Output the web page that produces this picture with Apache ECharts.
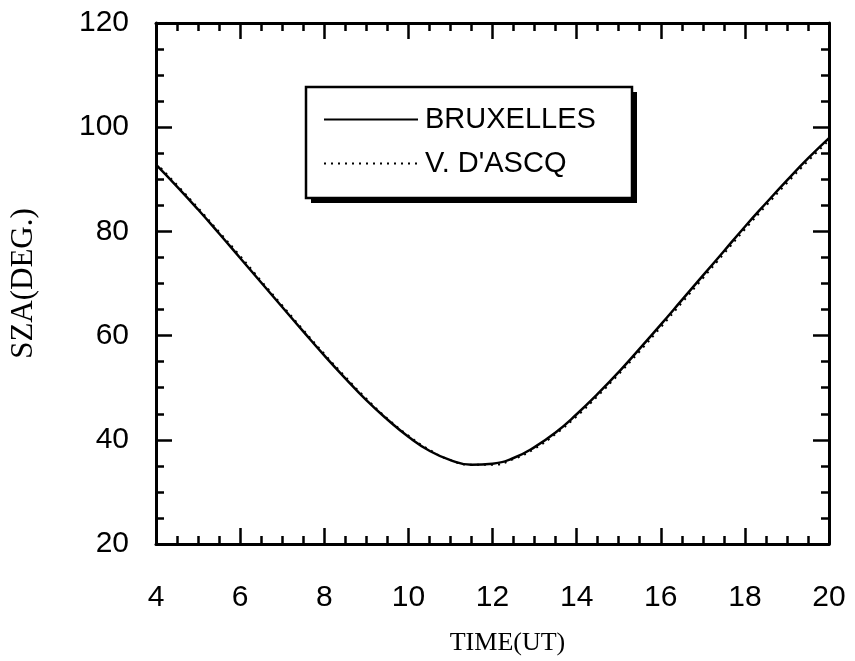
<!DOCTYPE html>
<html>
<head>
<meta charset="utf-8">
<script src="https://cdn.jsdelivr.net/npm/echarts@6/dist/echarts.min.js"></script>
<style>
	html, body { margin: 0; padding: 0; background: #fff; }
	#chart { width: 855px; height: 661px; }
</style>
</head>
<body>
<div id="chart"></div>
<script>
	'use strict';
	// hours UT
	var times = [4, 4.5, 5, 5.5, 6, 6.5, 7, 7.5, 8, 8.5, 9, 9.5, 10, 10.5, 11, 11.5, 12,
		12.5, 13, 13.5, 14, 14.5, 15, 15.5, 16, 16.5, 17, 17.5, 18, 18.5, 19, 19.5, 20];
	var bruxelles = [92.8, 88.6, 84.2, 79.6, 74.9, 70.2, 65.5, 60.8, 56.2, 51.8, 47.6, 43.9, 40.6,
		37.9, 36.1, 35.2, 35.4, 36.5, 38.6, 41.4, 44.9, 48.8, 53.0, 57.5, 62.1, 66.8, 71.5,
		76.2, 80.9, 85.4, 89.8, 94.0, 97.9];
	var villeneuve = [93.1, 88.9, 84.5, 79.9, 75.3, 70.5, 65.8, 61.1, 56.5, 52.1, 47.9, 44.1, 40.8,
		38.1, 36.1, 35.2, 35.2, 36.3, 38.3, 41.1, 44.5, 48.4, 52.6, 57.0, 61.6, 66.3, 71.0,
		75.7, 80.4, 84.9, 89.3, 93.5, 97.5];

	function pairs(ys) {
		return times.map(function (t, i) { return [t, ys[i]]; });
	}

	var labelFont = { fontFamily: 'Liberation Sans', fontSize: 30, color: '#000' };
	var frameLine = { show: true, onZero: false, lineStyle: { color: '#000', width: 3 } };
	var tick = { show: true, inside: true, length: 16, lineStyle: { color: '#000', width: 2.5 } };
	var minor = { show: true, splitNumber: 4, length: 8, lineStyle: { color: '#000', width: 2.5 } };
	var noMark = { color: 'rgba(0,0,0,0)' };

	var chart = echarts.init(document.getElementById('chart'));
	chart.setOption({
		backgroundColor: '#fff',
		animation: false,
		grid: { left: 152, right: 26, top: 23, bottom: 111 },
		// legend frame with its hard drop shadow
		graphic: [
			{ type: 'rect', z: 90, shape: { x: 311, y: 92, width: 326, height: 111 }, style: { fill: '#000' } },
			{ type: 'rect', z: 91, shape: { x: 306, y: 87, width: 326, height: 111 },
				style: { fill: '#fff', stroke: '#000', lineWidth: 2.5 } }
		],
		legend: {
			orient: 'vertical',
			left: 306,
			top: 87,
			z: 100,
			padding: [18, 26, 18, 17],
			itemWidth: 94,
			itemHeight: 30,
			itemGap: 15,
			itemStyle: { opacity: 0 },
			textStyle: { fontFamily: 'Liberation Sans', fontSize: 29, color: '#000', padding: [0, 0, 0, 2] },
			data: ['BRUXELLES', "V. D'ASCQ"]
		},
		xAxis: [{
			type: 'value', min: 4, max: 20, interval: 2,
			name: 'TIME(UT)', nameLocation: 'middle', nameGap: 86,
			nameTextStyle: { fontFamily: 'Liberation Serif', fontSize: 26, color: '#000', padding: [0, 0, 0, 30] },
			axisLine: frameLine, axisTick: tick, minorTick: minor,
			axisLabel: Object.assign({ margin: 39 }, labelFont),
			splitLine: { show: false }
		}, {
			type: 'value', min: 4, max: 20, interval: 2, position: 'top',
			axisLine: frameLine, axisTick: tick, minorTick: minor,
			axisLabel: { show: false }, splitLine: { show: false }
		}],
		yAxis: [{
			type: 'value', min: 20, max: 120, interval: 20,
			name: 'SZA(DEG.)', nameLocation: 'middle', nameGap: 117,
			nameTextStyle: { fontFamily: 'Liberation Serif', fontSize: 31, color: '#000' },
			axisLine: frameLine, axisTick: tick, minorTick: minor,
			axisLabel: Object.assign({ margin: 27 }, labelFont),
			splitLine: { show: false }
		}, {
			type: 'value', min: 20, max: 120, interval: 20, position: 'right',
			axisLine: frameLine, axisTick: tick, minorTick: minor,
			axisLabel: { show: false }, splitLine: { show: false }
		}],
		series: [{
			name: 'BRUXELLES',
			type: 'line',
			symbol: 'none',
			smooth: true,
			itemStyle: noMark,
			lineStyle: { color: '#000', width: 2.5 },
			data: pairs(bruxelles)
		}, {
			name: "V. D'ASCQ",
			type: 'line',
			symbol: 'none',
			smooth: true,
			itemStyle: noMark,
			lineStyle: { color: '#000', width: 2, type: [2, 5] },
			data: pairs(villeneuve)
		}]
	});
</script>
</body>
</html>
